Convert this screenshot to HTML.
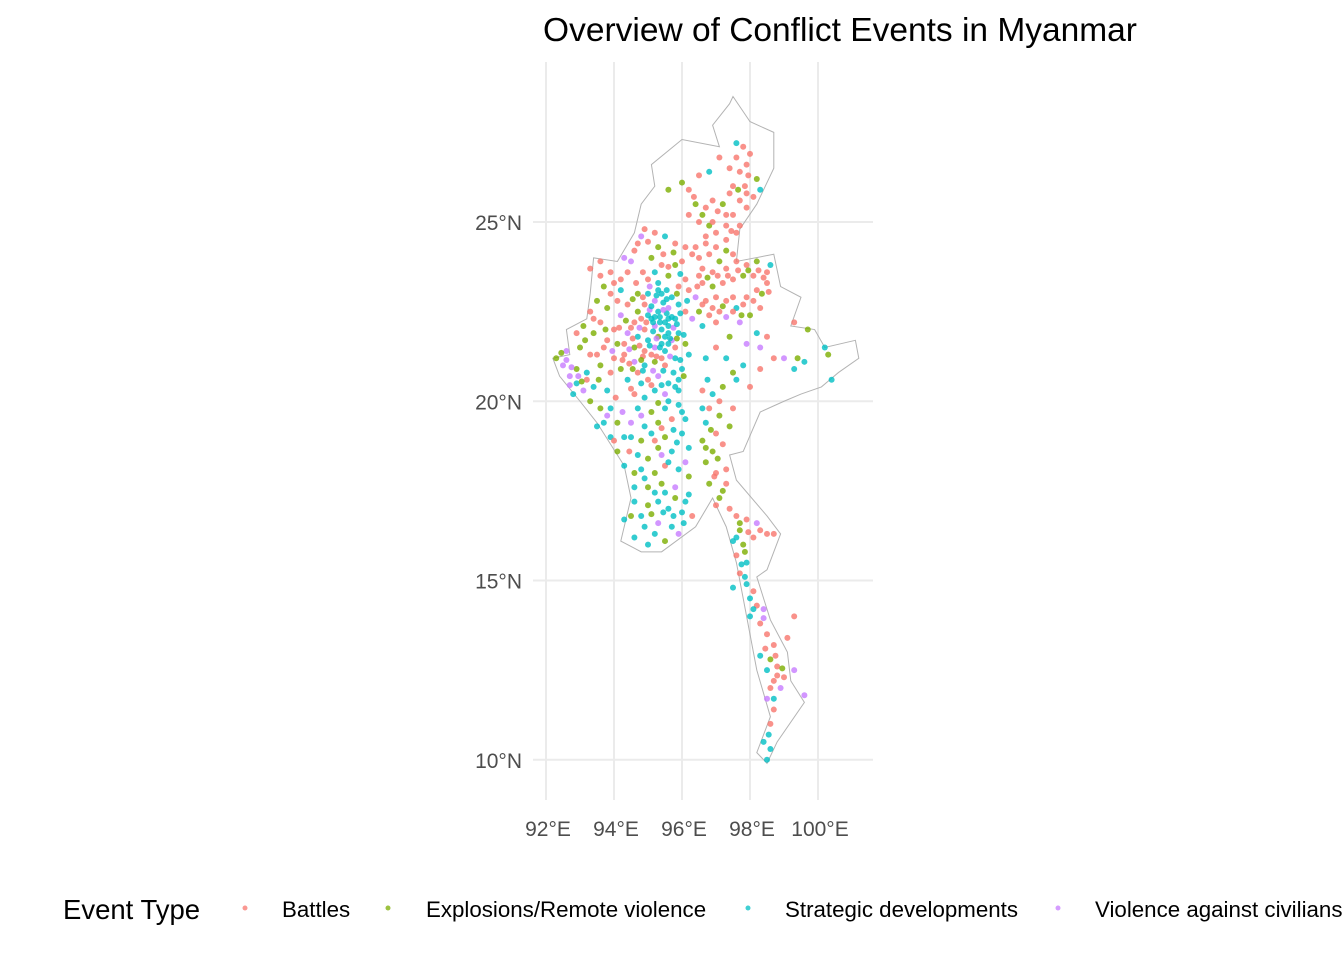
<!DOCTYPE html>
<html><head><meta charset="utf-8">
<style>
html,body{margin:0;padding:0;background:#fff;}
svg{display:block;font-family:"Liberation Sans",Arial,sans-serif;}
</style></head>
<body>
<svg id="chart" width="1344" height="960" viewBox="0 0 1344 960">
<text x="840" y="41" text-anchor="middle" font-size="33.5" fill="#000">Overview of Conflict Events in Myanmar</text>
<g id="grid"></g>
<g id="map"></g>
<g id="pts"></g>
<g id="axes"></g>
<g>
<text x="63" y="919" font-size="27.5" fill="#000">Event Type</text>
<g><circle cx="245" cy="908" r="2.5" fill="#F8766D" opacity="0.75"/><text x="282" y="917" font-size="22.3" fill="#000">Battles</text></g>
<g><circle cx="388" cy="908" r="2.5" fill="#7CAE00" opacity="0.75"/><text x="426" y="917" font-size="22.3" fill="#000">Explosions/Remote violence</text></g>
<g><circle cx="748" cy="908" r="2.5" fill="#00BFC4" opacity="0.75"/><text x="785" y="917" font-size="22.3" fill="#000">Strategic developments</text></g>
<g><circle cx="1058" cy="908" r="2.5" fill="#C77CFF" opacity="0.75"/><text x="1095" y="917" font-size="22.3" fill="#000">Violence against civilians</text></g>
</g>
</svg>
<script>
const lonTicks=[92,94,96,98,100];
const latTicks=[10,15,20,25];
const typeNames=["Battles","Explosions/Remote violence","Strategic developments","Violence against civilians"];
const typeColors={B:"#F8766D",E:"#7CAE00",S:"#00BFC4",V:"#C77CFF"};
const border=[[97.5,28.5],[98.0,27.8],[98.7,27.5],[98.7,26.5],[98.2,25.5],[97.7,24.8],[97.6,23.9],[98.7,24.1],[98.9,23.2],[99.5,22.9],[99.2,22.1],[99.9,22.0],[100.2,21.5],[101.1,21.7],[101.2,21.2],[100.6,20.8],[100.1,20.4],[99.5,20.2],[99.0,20.0],[98.3,19.7],[97.8,18.6],[97.4,18.5],[97.6,17.8],[98.5,16.8],[98.9,16.3],[98.5,15.3],[98.2,15.1],[98.6,13.9],[99.1,13.0],[99.2,12.2],[99.6,11.6],[98.8,10.5],[98.5,9.9],[98.2,10.2],[98.6,11.2],[98.2,12.5],[98.0,13.5],[97.6,15.5],[97.3,16.5],[96.9,17.3],[96.4,16.5],[95.4,15.8],[94.8,15.8],[94.2,16.1],[94.5,17.3],[94.3,18.2],[93.5,19.4],[93.0,20.0],[92.4,20.7],[92.2,21.2],[92.7,21.3],[92.6,22.0],[93.2,22.3],[93.3,23.0],[93.4,24.0],[94.1,23.9],[94.6,24.7],[94.8,25.5],[95.2,26.0],[95.1,26.6],[96.0,27.3],[97.1,27.1],[96.9,27.7],[97.4,28.3]];
const events="97.6,27.2,S;97.8,27.1,B;98.0,26.9,B;97.9,26.6,B;97.7,26.4,B;98.2,26.2,E;97.5,26.0,B;97.4,25.8,B;97.7,25.6,B;97.9,25.4,B;97.2,25.5,E;96.9,25.6,B;96.7,25.4,B;96.4,25.5,E;96.2,25.9,B;96.0,26.1,E;96.5,26.3,B;96.8,26.4,S;97.1,26.8,B;97.3,24.9,B;97.6,24.7,B;96.8,24.9,E;96.5,25.0,B;96.2,25.2,B;97.9,25.8,B;98.3,25.9,S;95.6,25.9,E;97.5,25.2,B;97.7,24.9,B;94.8,24.6,V;94.6,24.2,B;94.5,23.9,V;94.9,24.8,B;95.2,24.7,B;95.5,24.6,S;95.8,24.4,B;95.3,24.3,E;94.4,23.6,B;93.9,23.6,B;93.7,23.2,E;93.5,22.8,E;93.9,23.0,B;94.2,23.1,S;93.3,22.5,B;93.6,22.2,B;93.4,21.9,E;93.8,21.7,B;92.9,21.9,B;93.1,22.1,E;95.0,23.4,B;95.3,23.3,S;95.6,23.5,E;95.9,23.2,B;96.1,23.4,B;95.4,23.0,S;95.7,22.9,S;95.2,22.8,V;94.9,22.7,B;94.7,22.5,E;95.0,22.4,S;95.3,22.5,S;95.6,22.6,V;95.9,22.7,S;96.1,22.5,B;95.5,22.2,S;95.8,22.3,S;95.2,22.1,V;94.9,22.0,B;94.6,22.2,B;94.4,21.9,V;94.7,21.8,S;95.0,21.7,S;95.3,21.8,E;95.6,21.9,S;95.9,21.9,S;96.1,21.6,E;95.8,21.5,B;95.5,21.4,S;95.2,21.5,V;94.9,21.4,B;94.6,21.5,E;94.3,21.3,B;94.6,21.1,V;94.9,21.0,S;95.2,21.1,E;95.5,21.0,B;95.8,21.2,S;96.0,20.9,S;95.3,20.7,V;95.0,20.6,B;94.7,20.8,B;94.4,20.6,S;95.6,20.5,S;95.9,20.6,S;95.4,22.0,S;95.6,22.1,S;95.7,21.7,V;95.1,22.3,S;94.8,22.3,B;95.4,21.6,S;94.2,22.4,V;94.0,22.0,B;94.1,21.6,E;94.0,21.2,B;94.2,20.9,E;94.4,22.7,B;94.7,23.0,E;95.0,23.0,S;94.2,23.4,B;95.8,23.8,E;95.4,23.8,B;96.0,23.9,B;96.3,24.1,B;95.1,24.0,E;95.35,22.35,S;95.55,22.45,S;95.45,22.75,S;95.15,21.95,S;95.65,21.75,S;95.25,21.25,B;94.85,21.25,B;95.75,22.05,V;95.05,22.55,V;94.55,21.75,B;96.5,24.0,B;96.8,24.1,B;97.1,23.9,E;96.6,23.7,B;96.9,23.6,B;97.3,23.7,B;97.6,23.9,B;97.9,23.8,B;98.2,23.9,E;98.5,23.6,B;97.8,23.5,E;97.5,23.4,B;97.2,23.3,B;96.9,23.2,E;96.6,23.3,B;96.4,22.9,V;96.7,22.8,B;97.0,22.9,B;97.3,22.8,B;97.6,22.6,S;97.9,22.9,B;98.2,23.1,B;98.5,23.3,B;98.0,22.4,E;97.7,22.2,V;96.8,22.4,B;96.5,22.5,E;97.1,22.5,B;98.1,23.5,B;98.6,23.8,S;98.2,21.9,S;98.5,21.8,B;97.9,21.6,V;98.3,21.5,V;99.3,22.2,B;99.7,22.0,E;98.7,21.2,B;99.0,21.2,V;99.4,21.2,E;99.6,21.1,S;100.2,21.5,S;100.3,21.3,E;99.3,20.9,S;100.4,20.6,S;98.3,20.9,B;98.0,20.4,B;97.8,21.0,S;97.5,20.8,E;97.3,21.2,S;97.0,21.5,B;97.4,21.8,E;96.7,21.2,S;93.0,21.5,E;93.3,21.3,B;93.6,21.0,E;93.9,20.8,B;93.2,20.8,S;92.6,21.4,V;93.3,23.7,B;93.6,23.9,B;92.3,21.2,E;92.5,21.0,V;92.7,20.7,V;92.9,20.5,S;93.1,20.3,V;92.8,20.2,S;93.3,20.0,E;93.6,19.8,E;93.2,20.6,B;92.9,20.9,E;93.7,19.4,S;93.9,19.0,S;94.1,18.6,E;94.3,18.2,S;94.0,18.9,B;93.5,19.3,S;93.8,19.6,V;94.6,20.2,B;94.9,20.1,S;95.2,20.3,S;95.5,20.2,V;95.9,20.3,S;94.7,19.8,S;95.1,19.7,E;95.5,19.8,S;95.9,19.9,S;94.5,19.4,V;94.9,19.3,S;95.3,19.4,E;95.7,19.5,B;96.1,19.5,S;94.8,18.9,E;95.2,18.9,B;95.5,19.0,E;96.0,19.1,S;94.7,18.5,S;95.0,18.4,E;95.4,18.5,V;95.7,18.6,S;96.2,18.7,S;94.8,18.1,S;95.2,18.0,E;95.5,18.2,B;95.9,18.1,S;94.6,17.6,S;95.0,17.6,E;95.4,17.7,E;95.8,17.6,V;96.2,17.4,S;94.6,17.2,S;95.0,17.1,E;95.3,17.2,S;95.6,17.0,S;96.0,16.9,S;96.3,16.8,B;94.5,16.8,E;94.9,16.5,S;95.3,16.6,V;95.7,16.5,S;94.6,16.2,S;95.0,16.0,S;95.5,16.1,E;96.2,17.9,E;94.3,16.7,S;96.6,20.3,B;96.9,20.2,S;97.2,20.4,E;96.8,19.8,B;97.1,19.6,E;96.7,19.4,S;97.0,19.1,B;96.6,18.9,E;96.9,18.6,E;97.2,18.8,B;96.7,18.3,E;97.0,18.0,B;97.3,17.7,B;96.8,17.7,E;97.1,17.3,E;97.4,17.0,B;97.5,19.8,B;97.6,20.6,S;97.6,16.8,B;97.9,16.7,B;98.2,16.6,V;98.5,16.3,B;98.7,16.3,B;97.7,16.4,E;97.5,16.1,S;97.8,16.0,E;98.1,16.2,B;97.6,15.7,B;97.9,15.5,S;97.7,15.2,B;97.9,14.9,S;98.0,14.5,S;98.2,14.3,B;98.4,14.2,V;98.0,14.0,S;98.3,13.8,B;98.5,13.5,B;98.7,13.2,B;98.6,12.8,E;98.8,12.6,B;99.0,12.3,B;98.9,12.0,V;98.7,12.2,B;98.5,12.5,S;98.3,12.9,S;98.5,11.7,V;98.7,11.4,B;98.6,11.0,B;98.4,10.5,S;98.6,10.3,S;98.5,10.0,S;99.3,12.5,V;99.3,14.0,B;99.1,13.4,B;99.6,11.8,V;97.5,14.8,S;95.1,22.65,S;95.25,22.95,S;95.55,23.1,S;95.85,23.0,E;95.05,23.2,V;94.85,22.9,B;94.55,22.85,E;94.65,23.3,B;94.85,23.6,B;95.2,23.6,S;95.6,23.75,B;95.95,23.55,S;96.2,23.1,B;96.15,22.8,S;95.95,22.45,S;95.7,22.35,S;95.45,22.55,V;95.2,22.35,S;94.95,22.2,B;94.75,22.05,V;94.5,22.05,B;94.35,22.25,E;94.15,22.05,B;94.3,21.6,B;94.45,21.45,V;94.75,21.55,B;95.05,21.55,S;95.35,21.5,S;95.6,21.6,S;95.85,21.75,E;96.05,21.85,S;96.2,21.3,S;95.95,21.15,S;95.65,21.25,V;95.4,21.2,B;95.1,21.3,B;94.8,21.15,E;94.45,21.05,B;94.25,21.15,B;94.55,20.9,E;94.85,20.85,S;95.15,20.85,V;95.45,20.85,S;95.75,20.8,S;96.05,20.7,E;95.8,20.4,S;95.4,20.45,S;95.1,20.45,B;94.8,20.5,S;94.5,20.35,B;95.55,22.85,S;95.35,22.2,S;95.6,22.3,S;95.5,21.8,S;95.25,21.75,V;95.15,22.2,S;95.85,22.15,S;95.3,23.1,S;94.1,22.8,B;93.8,22.6,E;93.6,23.5,B;94.0,23.3,B;94.3,24.0,V;94.7,24.4,B;95.0,24.45,B;95.45,24.1,B;95.75,24.15,E;96.1,24.3,B;96.4,24.3,B;96.7,24.4,B;97.0,24.3,B;97.3,24.2,E;97.5,24.1,B;96.7,24.6,B;97.0,24.7,B;97.3,24.5,B;96.5,23.5,B;96.75,23.45,E;97.05,23.5,B;97.35,23.5,B;97.65,23.65,B;97.95,23.65,E;98.25,23.65,B;98.4,23.45,B;98.35,23.0,E;98.1,22.8,B;97.8,22.7,B;97.5,22.9,B;97.2,22.65,E;96.9,22.6,B;96.6,22.7,B;96.45,23.2,B;96.3,22.3,V;96.6,22.1,S;97.0,22.2,B;97.3,22.35,V;97.5,22.5,B;97.75,22.4,E;98.3,22.6,B;98.55,23.05,B;97.4,26.5,B;97.6,26.8,B;97.95,26.3,B;97.85,26.0,B;98.1,25.7,B;97.65,25.9,E;97.3,25.2,B;97.05,25.3,B;96.6,25.2,E;96.35,25.7,B;96.9,25.0,B;97.45,24.75,B;92.45,21.35,E;92.6,21.15,V;92.75,20.95,V;92.95,20.7,V;93.05,20.55,E;92.7,20.45,V;93.4,20.4,S;93.55,20.6,E;93.5,21.3,B;93.7,21.5,B;93.15,21.7,E;93.4,22.3,B;93.75,22.0,E;93.95,21.4,V;93.8,20.3,S;94.05,20.1,B;93.9,19.8,S;94.1,19.4,E;94.3,19.0,S;94.25,19.7,V;94.5,19.0,S;94.45,18.6,B;94.6,18.0,E;94.9,17.85,S;95.2,17.45,S;95.5,17.45,S;95.8,17.3,E;96.1,17.2,S;94.8,16.8,S;95.1,16.85,E;95.45,16.9,S;95.75,16.8,S;96.05,16.6,S;95.2,16.3,S;95.9,16.3,V;95.3,18.7,E;95.6,18.3,S;95.85,18.85,S;96.1,18.3,V;95.1,19.1,S;95.4,19.25,B;95.75,19.2,S;96.0,19.7,S;95.3,19.95,E;95.6,20.0,S;94.8,19.6,V;96.6,19.8,S;96.85,19.2,E;96.7,18.7,E;97.05,18.4,E;96.95,17.9,B;97.2,17.5,E;97.3,18.1,B;97.0,17.1,B;97.1,20.0,B;96.75,20.6,S;97.4,19.3,E;97.7,16.6,E;97.95,16.35,B;98.3,16.4,B;97.6,16.2,S;97.85,15.8,E;97.75,15.45,S;97.85,15.1,S;98.1,14.7,B;98.1,14.2,S;98.4,13.95,V;98.45,13.1,B;98.75,12.9,B;98.95,12.55,E;98.8,12.35,B;98.6,12.0,B;98.7,11.7,S;98.55,10.7,S";

const NS="http://www.w3.org/2000/svg";
function xScale(lon){return 546+(lon-92)*34;}
function yScale(lat){return 222-(lat-25)*35.85;}
function mk(tag,attrs,parent){const e=document.createElementNS(NS,tag);for(const k in attrs)e.setAttribute(k,attrs[k]);parent.appendChild(e);return e;}
const grid=document.getElementById('grid'),axes=document.getElementById('axes');
lonTicks.forEach(t=>{
  const l=mk('line',{x1:xScale(t),x2:xScale(t),y1:62,y2:800,stroke:'#ebebeb','stroke-width':2},grid);
  
  
  const tx=mk('text',{x:xScale(t)+2,y:836,'text-anchor':'middle','font-size':21,fill:'#4d4d4d'},axes);
  tx.textContent=t+'°E';
  
  
});
latTicks.forEach(t=>{
  const l=mk('line',{x1:533,x2:873,y1:yScale(t),y2:yScale(t),stroke:'#ebebeb','stroke-width':2},grid);
  
  
  const tx=mk('text',{x:522,y:yScale(t)+8,'text-anchor':'end','font-size':21,fill:'#4d4d4d'},axes);
  tx.textContent=t+'°N';
  
  
});
const poly=mk('polygon',{points:border.map(p=>xScale(p[0])+','+yScale(p[1])).join(' '),fill:'none',stroke:'#b3b3b3','stroke-width':1},document.getElementById('map'));


const pts=document.getElementById('pts');
events.split(';').forEach(s=>{
  const a=s.split(',');
  const c=mk('circle',{cx:xScale(+a[0]),cy:yScale(+a[1]),r:3,fill:typeColors[a[2]],opacity:0.8},pts);
  
  
});
</script>
</body></html>
